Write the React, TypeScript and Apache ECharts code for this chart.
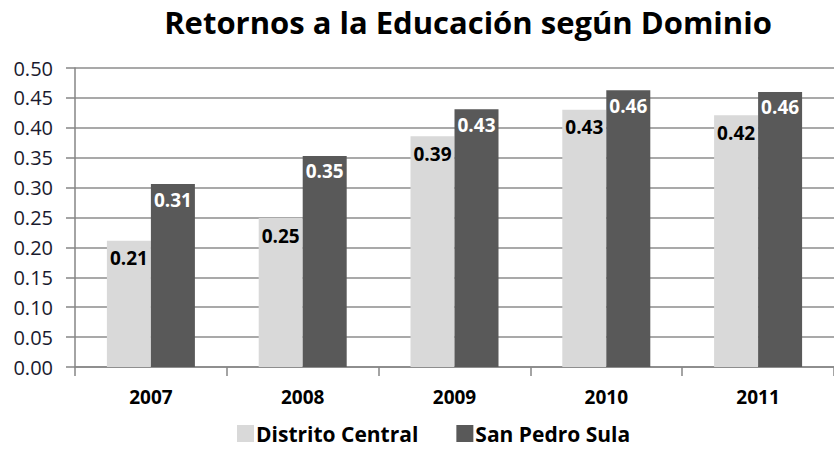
import React, { useEffect, useRef } from "react";
import * as echarts from "echarts";

const title = "Retornos a la Educación según Dominio";
const years = ["2007", "2008", "2009", "2010", "2011"];
const distritoCentral = [0.211, 0.249, 0.386, 0.43, 0.421];
const sanPedroSula = [0.306, 0.353, 0.431, 0.463, 0.46];
const seriesNames = ["Distrito Central", "San Pedro Sula"];

const FONT = "'Open Sans', Lato, sans-serif";

export default function App() {
  const ref = useRef<HTMLDivElement>(null);
  useEffect(() => {
    if (!ref.current) return;
    const chart = echarts.init(ref.current, undefined, { renderer: "svg" });
    chart.setOption({
      animation: false,
      backgroundColor: "#ffffff",
      title: {
        text: title,
        left: 463,
        textAlign: "center",
        top: 1,
        textStyle: { fontFamily: FONT, fontWeight: "bold", fontSize: 31, color: "#000000" },
      },
      legend: {
        bottom: 0,
        left: 232,
        itemWidth: 17,
        itemHeight: 17,
        itemGap: 38,
        icon: "rect",
        textStyle: { fontFamily: FONT, fontWeight: "bold", fontSize: 21, color: "#000000", padding: [0, 0, 0, -3] },
        data: seriesNames,
      },
      grid: { left: 75, top: 68, width: 764, height: 299 },
      xAxis: {
        type: "category",
        data: years,
        axisLine: { lineStyle: { color: "#868686", width: 1.5 } },
        axisTick: { show: true, length: 9, lineStyle: { color: "#868686", width: 1.5 } },
        axisLabel: { fontFamily: FONT, fontWeight: "bold", fontSize: 19, color: "#000000", margin: 20 },
      },
      yAxis: {
        type: "value",
        min: 0,
        max: 0.5,
        interval: 0.05,
        axisLine: { show: true, lineStyle: { color: "#868686", width: 1.5 } },
        axisTick: { show: true, length: 9, lineStyle: { color: "#868686", width: 1.5 } },
        splitLine: { lineStyle: { color: "#8c8c8c", width: 1.5 } },
        axisLabel: {
          fontFamily: FONT,
          fontSize: 20,
          color: "#1a1a2e",
          margin: 22,
          formatter: (v: number) => v.toFixed(2),
        },
      },
      series: [
        {
          name: seriesNames[0],
          type: "bar",
          data: distritoCentral,
          barWidth: 44,
          barGap: "0%",
          itemStyle: { color: "#D9D9D9" },
          label: {
            show: true,
            position: "insideTop",
            distance: 8,
            fontFamily: FONT,
            fontWeight: "bold",
            fontSize: 19,
            color: "#000000",
            formatter: (p: any) => p.value.toFixed(2),
          },
        },
        {
          name: seriesNames[1],
          type: "bar",
          data: sanPedroSula,
          barWidth: 44,
          barGap: "0%",
          itemStyle: { color: "#595959" },
          label: {
            show: true,
            position: "insideTop",
            distance: 6,
            fontFamily: FONT,
            fontWeight: "bold",
            fontSize: 19,
            color: "#ffffff",
            formatter: (p: any) => p.value.toFixed(2),
          },
        },
      ],
    });
    return () => chart.dispose();
  }, []);
  return <div ref={ref} style={{ width: 834, height: 449, position: "absolute", left: 0, top: 0 }} />;
}
